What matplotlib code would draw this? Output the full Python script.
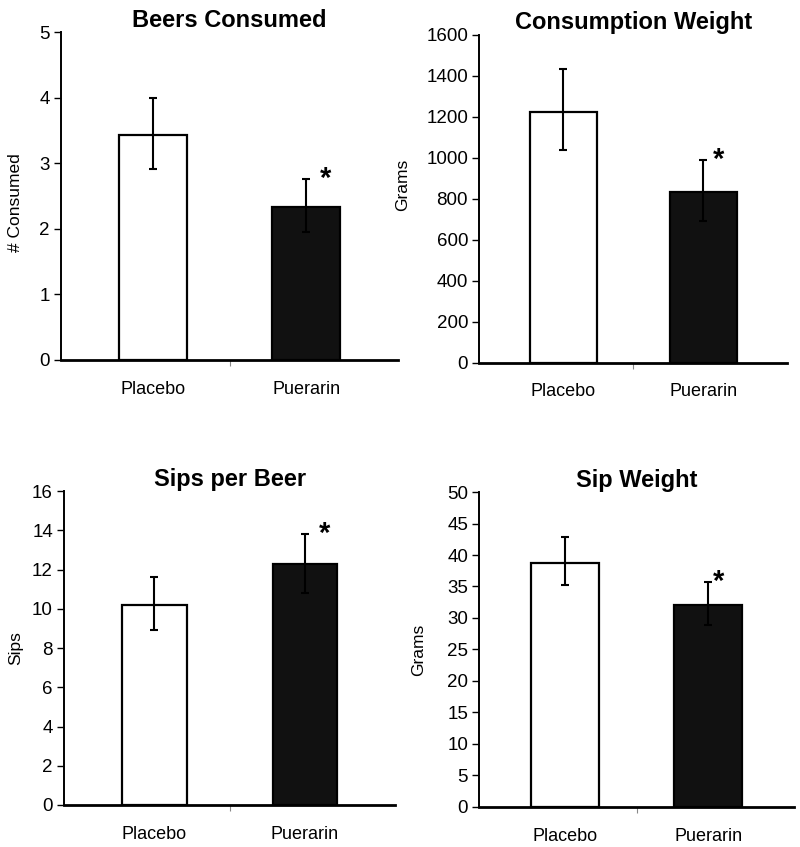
import numpy as np
import matplotlib
matplotlib.use("Agg")
import matplotlib.pyplot as plt

plt.rcParams['font.family'] = ['Liberation Sans', 'DejaVu Sans']

# data
groups = ['Placebo', 'Puerarin']
titles = ['Beers Consumed', 'Consumption Weight', 'Sips per Beer', 'Sip Weight']
ylabels = ['# Consumed', 'Grams', 'Sips', 'Grams']

beers_mean = [3.43, 2.34]
beers_lo = [0.52, 0.39]
beers_hi = [0.57, 0.42]

weight_mean = [1224, 833]
weight_lo = [186, 142]
weight_hi = [208, 156]

sips_mean = [10.18, 12.31]
sips_lo = [1.26, 1.51]
sips_hi = [1.45, 1.51]

sipw_mean = [38.77, 32.05]
sipw_lo = [3.47, 3.15]
sipw_hi = [4.13, 3.65]

ymax = [5, 1600, 16, 50]
ystep = [1, 200, 2, 5]

# layout
fig = plt.figure(figsize=(8.0, 8.47), dpi=100)
boxes = [
    [0.07625, 0.575, 0.42125, 0.387],
    [0.599, 0.572, 0.385, 0.387],
    [0.080, 0.0496, 0.414, 0.3704],
    [0.599, 0.0476, 0.3935, 0.3714],
]
widths = [0.44, 0.48, 0.43, 0.48]
star_dx = [0.13, 0.11, 0.13, 0.07]
# y label anchor (axes fraction)
label_xy = [(-0.113, 0.479), (-0.224, 0.541), (-0.124, 0.5), (-0.168, 0.5)]

panels = [
    (beers_mean, beers_lo, beers_hi),
    (weight_mean, weight_lo, weight_hi),
    (sips_mean, sips_lo, sips_hi),
    (sipw_mean, sipw_lo, sipw_hi),
]

x = np.arange(len(groups))
for i, (mean, lo, hi) in enumerate(panels):
    ax = fig.add_axes(boxes[i])
    ax.bar(x, mean, width=widths[i], color=['white', '#111111'],
           edgecolor='black', linewidth=1.6, zorder=2)
    ax.errorbar(x, mean, yerr=[lo, hi], fmt='none', ecolor='black',
                elinewidth=1.5, capsize=3, capthick=1.5, zorder=3)
    # significance star next to the puerarin error bar
    ax.annotate('*', xy=(x[1] + star_dx[i], mean[1] + hi[1]),
                xytext=(0, 0), textcoords='offset points',
                ha='center', va='center', fontsize=21, fontweight='bold')

    ax.set_xlim(-0.6, 1.6)
    ax.set_ylim(0, ymax[i])
    ax.set_yticks(np.arange(0, ymax[i] + ystep[i] / 2, ystep[i]))
    ax.set_xticks(x)
    ax.set_xticklabels(groups, fontsize=13)
    ax.tick_params(axis='x', length=0, pad=15)
    ax.set_xticks([0.5], minor=True)
    ax.tick_params(axis='x', which='minor', length=4, width=0.8, color='#888888')
    ax.tick_params(axis='y', length=5, width=1, labelsize=13.5, pad=3)

    ax.spines['top'].set_visible(False)
    ax.spines['right'].set_visible(False)
    ax.spines['left'].set_linewidth(1.4)
    ax.spines['bottom'].set_linewidth(2)

    ax.set_title(titles[i], fontsize=17, fontweight='bold', pad=4)
    ax.set_ylabel(ylabels[i], fontsize=12.5)
    ax.yaxis.set_label_coords(*label_xy[i])

fig.savefig('out.png', dpi=100)
